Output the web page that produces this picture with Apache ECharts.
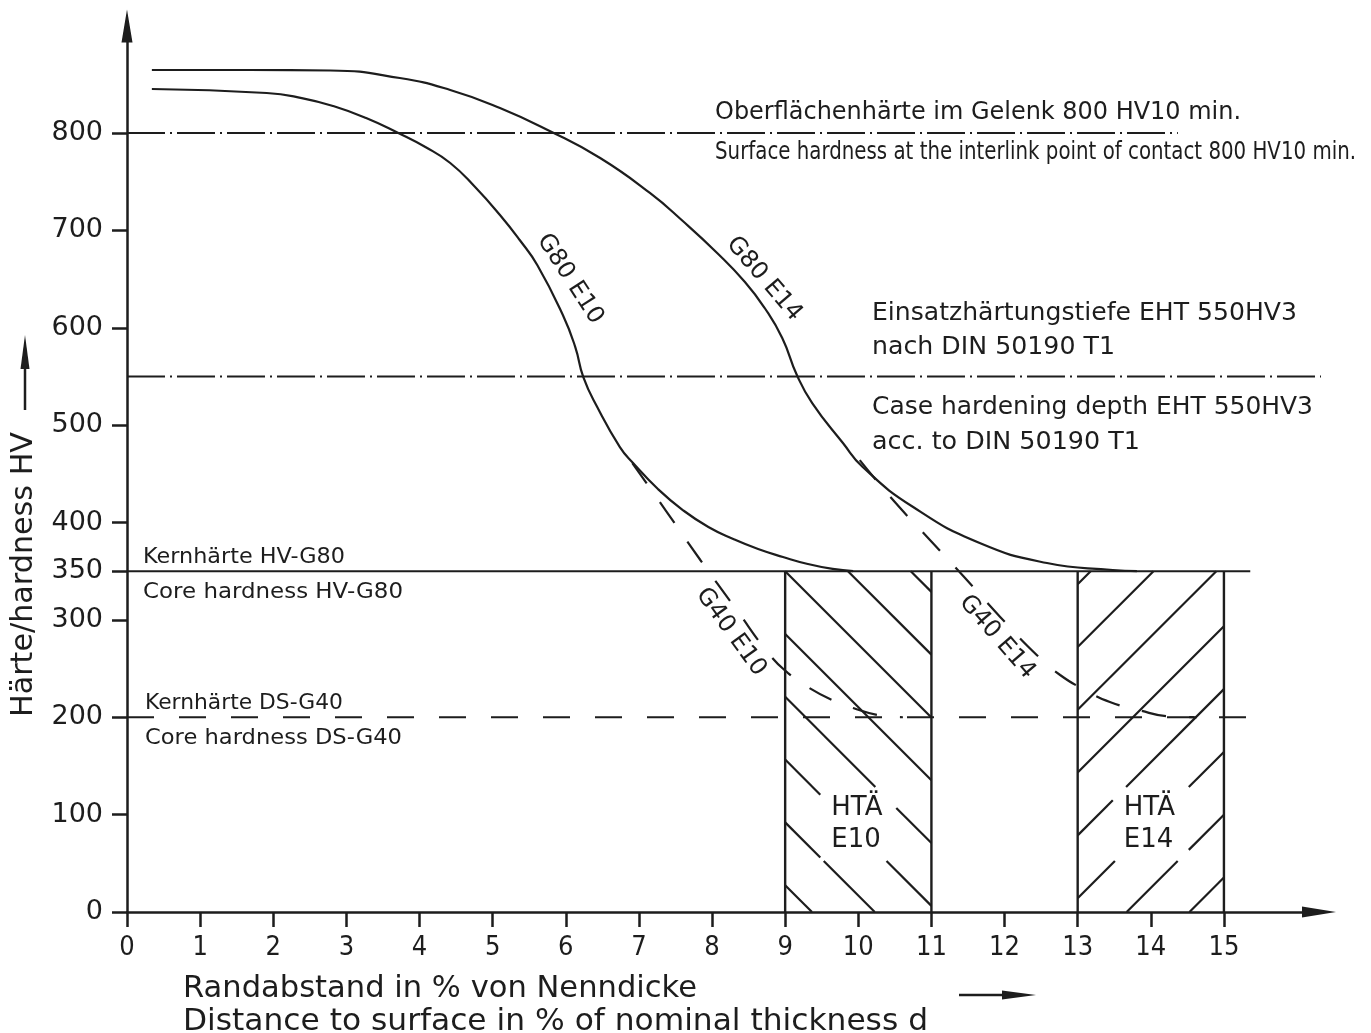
<!DOCTYPE html>
<html><head><meta charset="utf-8">
<script src="https://cdn.jsdelivr.net/npm/echarts@6/dist/echarts.min.js"></script>
<style>html,body{margin:0;padding:0;background:#fff}#c{width:1371px;height:1033px}</style>
</head><body><div id="c"></div>
<script>
// ---------------- data ----------------
const xTickValues = [0,1,2,3,4,5,6,7,8,9,10,11,12,13,14,15];
const yTickValues = [0,100,200,300,350,400,500,600,700,800];

// hardness curves [distance %, HV]
const g80E14 = [[0.34,864.7],[1.68,864.7],[2.78,864.2],[3.73,856.5],[4.42,844.2],[5.10,825.7],[5.78,802.1],[6.47,774.3],[7.15,738.4],[7.60,709.6],[8.07,676.8],[8.45,647],[8.72,620.3],[8.96,589.5],[9.16,551.5],[9.37,522.7],[9.79,481.6],[10.06,457],[10.75,415.9],[11.66,378.9],[12.58,358.4],[13.48,351.2],[13.81,350]];
const g80E10 = [[0.34,845.2],[1.91,841.1],[2.39,835.9],[2.82,827.7],[3.27,815.4],[3.71,800],[4.08,785.6],[4.42,769.2],[4.76,744.5],[5.10,715.8],[5.37,690.1],[5.61,664.4],[5.96,613.1],[6.13,580.2],[6.24,549.4],[6.43,518.6],[6.74,477.5],[6.92,461.1],[7.26,434.4],[7.60,412.8],[7.95,395.4],[8.29,383.1],[8.63,372.8],[8.97,364.6],[9.31,357.4],[9.65,352.3],[9.93,350]];
const g40E10 = [[6.91,461],[7.37,412],[7.84,361.5],[8.31,313],[8.79,264],[9.04,245.4],[9.31,231],[9.64,217.7],[9.93,209.5],[10.27,202.3],[10.61,200]];
const g40E14 = [[10.02,464],[10.50,421],[10.98,382],[11.46,343],[11.94,303],[12.44,264],[12.76,243.4],[13.10,228],[13.44,215.7],[13.83,207.4],[14.24,201],[14.63,200]];

// reference hardness levels and the extent (in %) of each line
const surfaceHV = 800, surfaceEnd = 14.37;
const caseHV = 550, caseEnd = 16.52;
const coreG80HV = 350, coreG80End = 15.36;
const coreG40HV = 200, coreG40End = 15.36;

// case hardening depth ranges (HTÄ) [from %, to %]
const hteRanges = [[9, 11], [13, 15]];
const hteLabels = ['HTÄ\nE10', 'HTÄ\nE14'];

// texts
const curveLabels = ['G80 E10', 'G80 E14', 'G40 E10', 'G40 E14'];
const noteTexts = [
  'Oberflächenhärte im Gelenk 800 HV10 min.',
  'Surface hardness at the interlink point of contact 800 HV10 min.',
  'Einsatzhärtungstiefe EHT 550HV3',
  'nach DIN 50190 T1',
  'Case hardening depth EHT 550HV3',
  'acc. to DIN 50190 T1',
  'Kernhärte HV-G80',
  'Core hardness HV-G80',
  'Kernhärte DS-G40',
  'Core hardness DS-G40'
];
const xTitle = ['Randabstand in % von Nenndicke', 'Distance to surface in % of nominal thickness d'];
const yTitle = 'Härte/hardness HV';

// ---------------- layout / style ----------------
const INK = '#1d1d1d';
const FAM = "'DejaVu Sans', sans-serif";
const mctx = document.createElement('canvas').getContext('2d');
function textW(t, size, fam) { mctx.font = size + 'px ' + fam; return mctx.measureText(t).width; }
function hasFont(f) {
  const s = '0123456789 abcdefghij';
  mctx.font = '40px ' + f + ', monospace'; const a = mctx.measureText(s).width;
  mctx.font = '40px monospace'; const b = mctx.measureText(s).width;
  return Math.abs(a - b) > 0.5;
}
let xFont = FAM, xFontSize = 27;
if (hasFont("'Liberation Sans Narrow'")) xFont = "'Liberation Sans Narrow', sans-serif";
else if (hasFont("'DejaVu Sans Condensed'")) xFont = "'DejaVu Sans Condensed', sans-serif";

// placement of notes: [x %, y HV (cap centre)], font size, target width px
const notePlace = [
  {at:[8.041, 820.7], size:25, w:526},
  {at:[8.041, 779.6], size:25, w:641},
  {at:[10.187, 613.9], size:24, w:425},
  {at:[10.187, 579.8], size:24, w:243},
  {at:[10.187, 518.3], size:24, w:441},
  {at:[10.187, 482.2], size:24, w:268},
  {at:[0.219, 364.0], size:22, w:202},
  {at:[0.219, 328.4], size:22, w:260},
  {at:[0.246, 213.9], size:22, w:198},
  {at:[0.246, 178.9], size:22, w:257}
];
const curveLabelPlace = [
  {at:[6.058, 650.1], rot:57},
  {at:[8.711, 650.1], rot:49.5},
  {at:[8.259, 287.5], rot:54},
  {at:[11.897, 282.4], rot:49}
];
const hteLabelY = 90.4;
const hatchDir = ['\\', '/'];
const hatchOffset = [0, 13];
const hatchSpacing = 62.8;

function cutOut(x0, y0, x1, y1, r) {
  const dx = x1 - x0, dy = y1 - y0; let t0 = 0, t1 = 1;
  const p = [-dx, dx, -dy, dy], q = [x0 - r[0], r[2] - x0, y0 - r[1], r[3] - y0];
  for (let k = 0; k < 4; k++) {
    if (p[k] === 0) { if (q[k] < 0) return [[x0, y0, x1, y1]]; }
    else {
      const t = q[k] / p[k];
      if (p[k] < 0) { if (t > t1) return [[x0, y0, x1, y1]]; if (t > t0) t0 = t; }
      else { if (t < t0) return [[x0, y0, x1, y1]]; if (t < t1) t1 = t; }
    }
  }
  const out = [];
  if (t0 > 0.001) out.push([x0, y0, x0 + dx * t0, y0 + dy * t0]);
  if (t1 < 0.999) out.push([x0 + dx * t1, y0 + dy * t1, x1, y1]);
  return out;
}

function hLine(name, y, xEnd, type) {
  return {type:'line', name, data:[[0, y], [xEnd, y]], symbol:'none', clip:false, silent:true,
    lineStyle:{color:INK, width:2.1, type}, z:2};
}
function curve(name, data, dashed) {
  return {type:'line', name, data, symbol:'none', smooth:0.5, silent:true, clip:false,
    lineStyle:{color:INK, width:2.2, type: dashed ? [25, 23] : 'solid'}, z:3};
}

const chart = echarts.init(document.getElementById('c'), null, {renderer:'canvas'});
const option = {
  animation:false,
  backgroundColor:'#ffffff',
  grid:{left:127, right:52, top:25.9, bottom:121, containLabel:false, outerBoundsMode:'none'},
  xAxis:{type:'value', min:0, max:16.3,
    axisLine:{show:true, onZero:false, symbol:['none','triangle'], symbolSize:[11,34], lineStyle:{color:INK, width:2.5}},
    axisTick:{show:true, customValues:xTickValues, length:15, lineStyle:{color:INK, width:2.5}},
    axisLabel:{show:true, customValues:xTickValues, margin:22, color:INK, fontSize:xFontSize, fontFamily:xFont},
    splitLine:{show:false}},
  yAxis:{type:'value', min:0, max:910,
    axisLine:{show:true, onZero:false, symbol:['none','triangle'], symbolSize:[11,33], lineStyle:{color:INK, width:2.5}},
    axisTick:{show:true, customValues:yTickValues, length:15, lineStyle:{color:INK, width:2.5}},
    axisLabel:{show:true, customValues:yTickValues, margin:24, color:INK, fontSize:27, fontFamily:FAM},
    splitLine:{show:false}},
  series:[
    hLine('800 HV10', surfaceHV, surfaceEnd, [38,5,2,5]),
    hLine('EHT 550HV3', caseHV, caseEnd, [38,5,2,5]),
    hLine('Core HV-G80', coreG80HV, coreG80End, 'solid'),
    hLine('Core DS-G40', coreG40HV, coreG40End, [27,25]),
    curve('G80 E14', g80E14, false),
    curve('G80 E10', g80E10, false),
    curve('G40 E10', g40E10, true),
    curve('G40 E14', g40E14, true),
    {type:'custom', name:'HTÄ', data:hteRanges.map(r => [r[0], r[1]]), clip:false, silent:true, z:4,
      encode:{x:[0,1]},
      renderItem(params, api) {
        const i = params.dataIndex;
        const tl = api.coord([api.value(0), coreG80HV]);
        const br = api.coord([api.value(1), 0]);
        const L = tl[0], T = tl[1], R = br[0], B = br[1];
        const cx = (L + R) / 2, cy = api.coord([api.value(0), hteLabelY])[1];
        const gap = [cx - 38, cy - 37, cx + 38, cy + 37];
        const st = {stroke:INK, lineWidth:2.2, fill:null};
        const kids = [];
        const segs = [];
        if (hatchDir[i] === '\\') {
          const c0 = T - L + hatchOffset[i];
          const kmin = Math.ceil((T - R - c0) / hatchSpacing), kmax = Math.floor((B - L - c0) / hatchSpacing);
          for (let k = kmin; k <= kmax; k++) {
            const c = c0 + k * hatchSpacing;
            const xs = Math.max(L, T - c), xe = Math.min(R, B - c);
            if (xe - xs > 0.5) segs.push([xs, xs + c, xe, xe + c]);
          }
        } else {
          const c0 = T + L + hatchOffset[i];
          const kmin = Math.ceil((T + L - c0) / hatchSpacing), kmax = Math.floor((B + R - c0) / hatchSpacing);
          for (let k = kmin; k <= kmax; k++) {
            const c = c0 + k * hatchSpacing;
            const xs = Math.max(L, c - B), xe = Math.min(R, c - T);
            if (xe - xs > 0.5) segs.push([xs, c - xs, xe, c - xe]);
          }
        }
        segs.forEach(s => cutOut(s[0], s[1], s[2], s[3], gap).forEach(p =>
          kids.push({type:'line', shape:{x1:p[0], y1:p[1], x2:p[2], y2:p[3]}, style:st})));
        kids.push({type:'line', shape:{x1:L, y1:T, x2:L, y2:B}, style:{stroke:INK, lineWidth:2.4}});
        kids.push({type:'line', shape:{x1:R, y1:T, x2:R, y2:B}, style:{stroke:INK, lineWidth:2.4}});
        kids.push({type:'text', x:cx - 27, y:cy, style:{text:hteLabels[i], fontSize:26, fontFamily:FAM,
          fill:INK, align:'left', verticalAlign:'middle', lineHeight:32}});
        return {type:'group', children:kids};
      }},
    {type:'custom', name:'curve labels', data:curveLabelPlace.map(p => p.at), clip:false, silent:true, z:5,
      renderItem(params, api) {
        const i = params.dataIndex;
        const p = api.coord([api.value(0), api.value(1)]);
        return {type:'text', x:p[0], y:p[1], rotation:-curveLabelPlace[i].rot * Math.PI / 180,
          style:{text:curveLabels[i], fontSize:24, fontFamily:FAM, fill:INK, align:'center', verticalAlign:'middle'}};
      }},
    {type:'custom', name:'notes', data:notePlace.map(p => p.at), clip:false, silent:true, z:5,
      renderItem(params, api) {
        const i = params.dataIndex, n = notePlace[i];
        const p = api.coord([api.value(0), api.value(1)]);
        const s = n.w / textW(noteTexts[i], n.size, FAM);
        return {type:'text', x:p[0], y:p[1], scaleX:s,
          style:{text:noteTexts[i], fontSize:n.size, fontFamily:FAM, fill:INK, align:'left', verticalAlign:'middle'}};
      }}
  ]
};
chart.setOption(option);

// axis titles with arrows, placed relative to the axes' origin
const o = chart.convertToPixel({gridIndex:0}, [0, 0]);
const ox = o[0], oy = o[1];
const t1s = 514 / textW(xTitle[0], 30, FAM), t2s = 745 / textW(xTitle[1], 30, FAM);
const ys = 285 / textW(yTitle, 30, FAM);
chart.setOption({graphic:[
  {type:'text', x:ox + 56, y:oy + 77, scaleX:t1s, style:{text:xTitle[0], fontSize:30, fontFamily:FAM, fill:INK, align:'left', verticalAlign:'middle'}},
  {type:'text', x:ox + 56, y:oy + 110, scaleX:t2s, style:{text:xTitle[1], fontSize:30, fontFamily:FAM, fill:INK, align:'left', verticalAlign:'middle'}},
  {type:'line', shape:{x1:ox + 832, y1:oy + 83, x2:ox + 878, y2:oy + 83}, style:{stroke:INK, lineWidth:2.5}},
  {type:'polygon', shape:{points:[[ox + 875, oy + 78.5], [ox + 909, oy + 83], [ox + 875, oy + 87.5]]}, style:{fill:INK}},
  {type:'text', x:ox - 103, y:oy - 195, rotation:Math.PI / 2, scaleX:ys, style:{text:yTitle, fontSize:30, fontFamily:FAM, fill:INK, align:'left', verticalAlign:'middle'}},
  {type:'line', shape:{x1:ox - 102, y1:oy - 502, x2:ox - 102, y2:oy - 546}, style:{stroke:INK, lineWidth:2.5}},
  {type:'polygon', shape:{points:[[ox - 106.5, oy - 543], [ox - 102, oy - 577], [ox - 97.5, oy - 543]]}, style:{fill:INK}}
]});
</script>
</body></html>
